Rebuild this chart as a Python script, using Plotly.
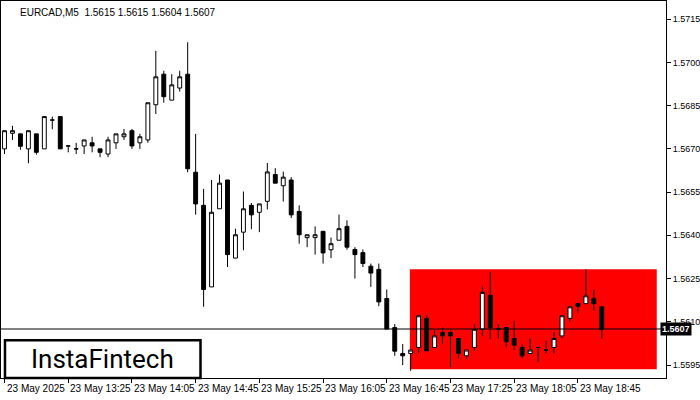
import plotly.graph_objects as go

# M5 bars, 23 May 2025 12:45 .. 19:00
opens = [1.56700, 1.56754, 1.56752, 1.56700, 1.56752, 1.56700, 1.56800, 1.56812, 1.56710, 1.56700,
         1.56710, 1.56721, 1.56700, 1.56682, 1.56721, 1.56742, 1.56763, 1.56721, 1.56731, 1.56853,
         1.56959, 1.56869, 1.56911, 1.56959, 1.56619, 1.56504, 1.56221, 1.56492, 1.56592, 1.56321,
         1.56411, 1.56504, 1.56480, 1.56518, 1.56611, 1.56572, 1.56592, 1.56483, 1.56392, 1.56392,
         1.56414, 1.56350, 1.56383, 1.56431, 1.56351, 1.56340, 1.56293, 1.56282, 1.56181, 1.56080,
         1.55990, 1.55990, 1.56011, 1.56112, 1.56011, 1.56063, 1.56063, 1.56042, 1.55982, 1.56011,
         1.56075, 1.56192, 1.56075, 1.56080, 1.56042, 1.56011, 1.55990, 1.56011, 1.56002, 1.56011,
         1.56051, 1.56112, 1.56163, 1.56163, 1.56181, 1.56152]
highs = [1.56763, 1.56780, 1.56752, 1.56763, 1.56752, 1.56812, 1.56812, 1.56812, 1.56710, 1.56721,
         1.56731, 1.56742, 1.56700, 1.56742, 1.56752, 1.56769, 1.56769, 1.56752, 1.56860, 1.57040,
         1.56971, 1.56959, 1.56971, 1.57070, 1.56752, 1.56561, 1.56592, 1.56611, 1.56592, 1.56423,
         1.56552, 1.56512, 1.56509, 1.56651, 1.56633, 1.56621, 1.56602, 1.56504, 1.56402, 1.56431,
         1.56414, 1.56392, 1.56472, 1.56452, 1.56359, 1.56351, 1.56302, 1.56302, 1.56212, 1.56092,
         1.56023, 1.56002, 1.56121, 1.56123, 1.56071, 1.56080, 1.56071, 1.56042, 1.56002, 1.56092,
         1.56223, 1.56273, 1.56092, 1.56080, 1.56103, 1.56023, 1.56042, 1.56011, 1.56034, 1.56065,
         1.56121, 1.56152, 1.56163, 1.56282, 1.56212, 1.56152]
lows = [1.56682, 1.56731, 1.56697, 1.56650, 1.56680, 1.56700, 1.56768, 1.56700, 1.56688, 1.56682,
        1.56682, 1.56688, 1.56671, 1.56671, 1.56700, 1.56731, 1.56700, 1.56700, 1.56721, 1.56821,
        1.56860, 1.56869, 1.56899, 1.56619, 1.56472, 1.56152, 1.56221, 1.56492, 1.56290, 1.56321,
        1.56348, 1.56421, 1.56411, 1.56490, 1.56581, 1.56517, 1.56460, 1.56371, 1.56359, 1.56333,
        1.56302, 1.56321, 1.56383, 1.56350, 1.56250, 1.56290, 1.56221, 1.56154, 1.56075, 1.55982,
        1.55950, 1.55930, 1.55990, 1.55999, 1.56011, 1.56023, 1.55942, 1.55973, 1.55971, 1.55999,
        1.56051, 1.56040, 1.56042, 1.56011, 1.56002, 1.55973, 1.55990, 1.55961, 1.55990, 1.55990,
        1.56042, 1.56100, 1.56131, 1.56163, 1.56140, 1.56042]
closes = [1.56763, 1.56763, 1.56709, 1.56763, 1.56688, 1.56812, 1.56800, 1.56700, 1.56710, 1.56700,
          1.56731, 1.56710, 1.56688, 1.56731, 1.56752, 1.56752, 1.56710, 1.56742, 1.56860, 1.56950,
          1.56881, 1.56922, 1.56950, 1.56631, 1.56509, 1.56212, 1.56480, 1.56581, 1.56333, 1.56402,
          1.56492, 1.56471, 1.56509, 1.56620, 1.56581, 1.56602, 1.56471, 1.56402, 1.56402, 1.56402,
          1.56339, 1.56371, 1.56423, 1.56359, 1.56333, 1.56302, 1.56269, 1.56169, 1.56075, 1.55998,
          1.55982, 1.56002, 1.56121, 1.55999, 1.56051, 1.56051, 1.56051, 1.55990, 1.56002, 1.56074,
          1.56202, 1.56080, 1.56075, 1.56031, 1.56019, 1.55982, 1.56002, 1.56011, 1.56002, 1.56042,
          1.56121, 1.56152, 1.56154, 1.56190, 1.56163, 1.56074]

x_ticks = [0, 8, 16, 24, 32, 40, 48, 56, 64, 72]
x_labels = ["23 May 2025", "23 May 13:25", "23 May 14:05", "23 May 14:45", "23 May 15:25",
            "23 May 16:05", "23 May 16:45", "23 May 17:25", "23 May 18:05", "23 May 18:45"]
y_ticks = [1.5595, 1.5610, 1.5625, 1.5640, 1.5655, 1.5670, 1.5685, 1.5700, 1.5715]
last_price = 1.56075
box_x = [50.9, 81.9]
box_y = [1.55935, 1.56282]

FONT = "Liberation Sans, Arial, sans-serif"
idx = list(range(len(opens)))

fig = go.Figure()
fig.add_shape(type="rect", xref="x", yref="y", x0=box_x[0], x1=box_x[1],
              y0=box_y[0], y1=box_y[1], fillcolor="#FF0000", line_width=0, layer="below")
fig.add_trace(go.Candlestick(
    x=idx, open=opens, high=highs, low=lows, close=closes,
    increasing=dict(fillcolor="white", line=dict(color="black", width=1)),
    decreasing=dict(fillcolor="black", line=dict(color="black", width=1)),
    whiskerwidth=0, hoverinfo="skip"))
fig.add_shape(type="line", xref="paper", yref="y", x0=0, x1=1,
              y0=last_price, y1=last_price, line=dict(color="black", width=1))

fig.update_layout(
    width=700, height=400, paper_bgcolor="white", plot_bgcolor="white",
    margin=dict(l=0, r=32, t=0, b=22), showlegend=False,
    font=dict(family=FONT, size=9, color="black"),
    xaxis=dict(range=[-0.44, 83.06], rangeslider=dict(visible=False), showgrid=False,
               zeroline=False, tickvals=x_ticks, ticktext=[""] * len(x_ticks),
               ticks="outside", ticklen=4, tickcolor="black",
               showline=True, linecolor="black", linewidth=1, mirror=True),
    yaxis=dict(range=[1.55905, 1.57213], side="right", showgrid=False, zeroline=False,
               tickvals=y_ticks, ticktext=[f"{v:.4f}" for v in y_ticks],
               ticks="outside", ticklen=4, tickcolor="black", tickfont=dict(size=9),
               showline=True, linecolor="black", linewidth=1, mirror=True),
)

for t, lab in zip(x_ticks, x_labels):
    fig.add_annotation(x=t, xref="x", y=-0.008, yref="paper", text=lab, showarrow=False,
                       xanchor="left", yanchor="top", font=dict(family=FONT, size=10))

fig.add_annotation(x=1.0, xref="paper", y=last_price, yref="y", text="<b>1.5607</b>",
                   showarrow=False, xanchor="left", xshift=-6, bgcolor="black",
                   font=dict(family=FONT, size=9, color="white"), borderpad=1)

fig.add_annotation(x=0.025, xref="paper", y=0.99, yref="paper", showarrow=False,
                   text="EURCAD,M5  1.5615 1.5615 1.5604 1.5607", xanchor="left", yanchor="top",
                   font=dict(family=FONT, size=10))

fig.add_shape(type="rect", xref="paper", yref="paper", x0=0.006, x1=0.3,
              y0=0.0, y1=0.1, fillcolor="white", line=dict(color="black", width=2.5))
fig.add_annotation(x=0.153, xref="paper", y=0.05, yref="paper", text="InstaFintech",
                   showarrow=False, xanchor="center", yanchor="middle",
                   font=dict(family="Roboto, sans-serif", size=26, color="black"))

fig.write_html("out.html", config=dict(displayModeBar=False),
               post_script="document.body.style.margin='0';")
